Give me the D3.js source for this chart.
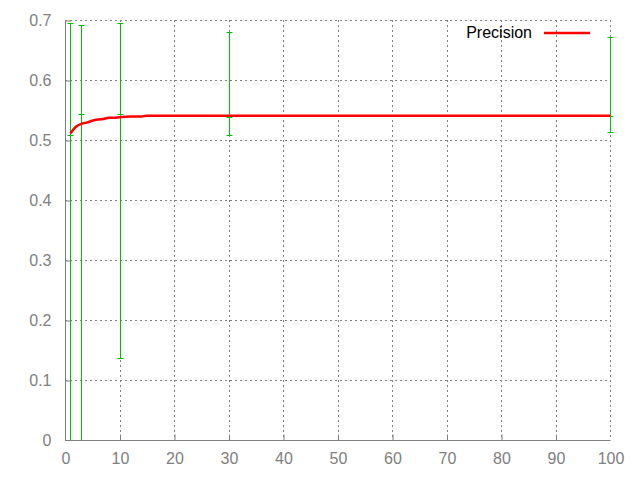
<!DOCTYPE html>
<html><head><meta charset="utf-8">
<script src="https://cdn.jsdelivr.net/npm/d3@7/dist/d3.min.js"></script>
<style>body{margin:0;background:#fff}svg{display:block}</style>
</head><body>
<svg id="c" width="640" height="480"></svg>
<script>
// Precision curve
const precisionX = [1, 2, 3, 4, 5, 6, 7, 8, 9, 10, 12, 14, 15, 20, 30, 50, 70, 100];
const precisionY = [0.511, 0.522, 0.527, 0.529, 0.532, 0.534, 0.535, 0.537, 0.537, 0.538, 0.539, 0.539, 0.5405, 0.5405, 0.5405, 0.5405, 0.5405, 0.5405];
// Error bars
const errX = [1, 3, 10, 30, 100];
const errMid = [0.509, 0.543, 0.543, 0.538, 0.5395];
const errLow = [-0.15, -0.15, 0.136, 0.508, 0.513];
const errHigh = [0.695, 0.691, 0.695, 0.680, 0.671];
// Ticks
const xTicks = [0, 10, 20, 30, 40, 50, 60, 70, 80, 90, 100];
const yTicks = [0, 0.1, 0.2, 0.3, 0.4, 0.5, 0.6, 0.7];
const legendLabel = "Precision";

const svg = d3.select("#c");
const L = 65, R = 610, T = 20, B = 440;
const x = d3.scaleLinear().domain([0, 100]).range([L, R]);
const y = d3.scaleLinear().domain([0, 0.7]).range([B, T]);
const font = "'Liberation Sans', Arial, sans-serif";
const gray = "#808080";

svg.append("defs").append("clipPath").attr("id", "clip")
  .append("rect").attr("x", L).attr("y", T - 5).attr("width", R - L + 5).attr("height", B - T + 5);

// grid
const grid = svg.append("g").attr("stroke", gray).attr("stroke-width", 1).attr("stroke-dasharray", "2,3");
xTicks.filter(d => d > 0).forEach(d => {
  grid.append("line").attr("x1", Math.round(x(d)) + 0.5).attr("x2", Math.round(x(d)) + 0.5)
    .attr("y1", T).attr("y2", B);
});
yTicks.filter(d => d > 0).forEach(d => {
  grid.append("line").attr("x1", L).attr("x2", R)
    .attr("y1", Math.round(y(d)) + 0.5).attr("y2", Math.round(y(d)) + 0.5);
});

// axes
const xAxis = d3.axisBottom(x).tickValues(xTicks).tickSize(-6).tickPadding(12).tickFormat(d3.format("d"));
const yAxis = d3.axisLeft(y).tickValues(yTicks).tickSize(-6).tickPadding(14).tickFormat(d => d === 0 ? "0" : d3.format(".1f")(d));
const gx = svg.append("g").attr("transform", `translate(0.5,${B + 0.5})`).call(xAxis);
const gy = svg.append("g").attr("transform", `translate(${L + 0.5},0.5)`).call(yAxis);
[gx, gy].forEach(g => {
  g.select(".domain").attr("stroke", gray);
  g.selectAll(".tick line").attr("stroke", gray);
  g.selectAll(".tick text").attr("fill", gray).attr("font-family", font).attr("font-size", 16);
});
gx.select(".domain").attr("d", `M${L - 0.5},0H${R}`);
gy.select(".domain").attr("d", `M0,${T}V${B}`);
gx.selectAll(".tick line").filter(d => d === 0 || d === 100).remove();
gy.selectAll(".tick line").filter(d => d === 0).remove();

// error bars
const eb = svg.append("g").attr("clip-path", "url(#clip)").attr("stroke", "#00c000").attr("stroke-width", 1);
errX.forEach((xv, i) => {
  const px = Math.round(x(xv)) + 0.5;
  eb.append("line").attr("x1", px).attr("x2", px).attr("y1", y(errLow[i])).attr("y2", y(errHigh[i]));
  [errLow[i], errMid[i], errHigh[i]].forEach(v => {
    eb.append("line").attr("x1", px - 3).attr("x2", px + 3).attr("y1", Math.round(y(v)) + 0.5).attr("y2", Math.round(y(v)) + 0.5);
  });
});

// curve
const pts = precisionX.map((d, i) => [d, precisionY[i]]);
svg.append("path").datum(pts)
  .attr("fill", "none").attr("stroke", "#ff0000").attr("stroke-width", 2.5)
  .attr("d", d3.line().x(d => x(d[0])).y(d => y(d[1])).curve(d3.curveMonotoneX));

// legend
svg.append("text").attr("x", 532).attr("y", 38).attr("text-anchor", "end")
  .attr("font-family", font).attr("font-size", 16).attr("fill", "#000").text(legendLabel);
svg.append("line").attr("x1", 544).attr("x2", 590).attr("y1", 33).attr("y2", 33)
  .attr("stroke", "#ff0000").attr("stroke-width", 2.5);
</script>
</body></html>
